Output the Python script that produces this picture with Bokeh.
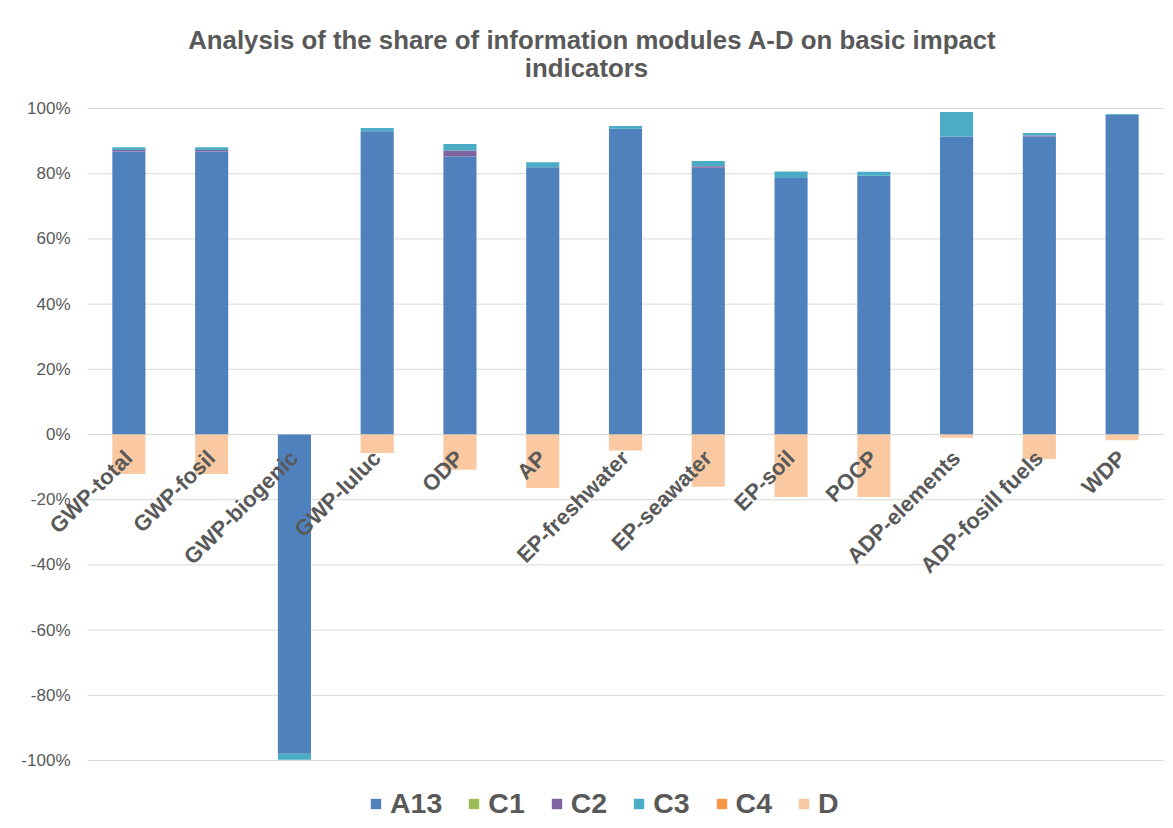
import math
from bokeh.plotting import figure
from bokeh.models import (ColumnDataSource, Range1d, Legend, LegendItem, LabelSet, Label)
from bokeh.core.properties import value
from bokeh.embed import file_html
from bokeh.resources import INLINE

categories = ["GWP-total", "GWP-fosil", "GWP-biogenic", "GWP-luluc", "ODP", "AP",
              "EP-freshwater", "EP-seawater", "EP-soil", "POCP", "ADP-elements",
              "ADP-fosill fuels", "WDP"]
series_names = ["A13", "C1", "C2", "C3", "C4", "D"]
A13 = [0.868, 0.868, -0.979, 0.930, 0.853, 0.820, 0.938, 0.818, 0.787, 0.794, 0.914, 0.914, 0.981]
C1 = [0.0, 0.0, 0.0, 0.0, 0.0, 0.0, 0.0, 0.0, 0.0, 0.0, 0.0, 0.0, 0.0]
C2 = [0.005, 0.005, 0.0, 0.0, 0.018, 0.0, 0.0, 0.005, 0.0, 0.0, 0.0, 0.003, 0.0]
C3 = [0.008, 0.008, -0.019, 0.010, 0.020, 0.015, 0.008, 0.016, 0.020, 0.012, 0.075, 0.008, 0.002]
C4 = [0.0, 0.0, 0.0, 0.0, 0.0, 0.0, 0.0, 0.0, 0.0, 0.0, 0.0, 0.0, 0.0]
D = [-0.121, -0.121, 0.0, -0.057, -0.108, -0.164, -0.049, -0.160, -0.192, -0.192, -0.010, -0.075, -0.018]
colors = ["#4F81BD", "#9BBB59", "#8064A2", "#4BACC6", "#F79646", "#FAC9A1"]
y_ticks = [-1.0, -0.8, -0.6, -0.4, -0.2, 0.0, 0.2, 0.4, 0.6, 0.8, 1.0]
y_tick_labels = ["%d%%" % round(t * 100) for t in y_ticks]
title_line1 = "Analysis  of the share of information modules A-D on basic impact"
title_line2 = "indicators"

GRAY = "#595959"
FONT = "Liberation Sans"
W, H = 1173, 828
n = len(categories)
xs = list(range(n))

# plot frame covers the whole figure so that rotated labels and the legend are not clipped
PX_X = 82.77   # pixels per category
PX_Y = 326.0   # pixels per 100%
x_start = -0.5 - 87 / PX_X
x_end = x_start + W / PX_X
y_end = 1.0 + 108 / PX_Y
y_start = y_end - H / PX_Y

p = figure(width=W, height=H, x_range=Range1d(x_start, x_end), y_range=Range1d(y_start, y_end),
           output_backend="svg", toolbar_location=None,
           min_border_left=0, min_border_right=0, min_border_top=0, min_border_bottom=0)
p.outline_line_color = None
p.xaxis.visible = False
p.yaxis.visible = False
p.xgrid.grid_line_color = None
p.ygrid.grid_line_color = None

# horizontal gridlines over the category area
p.segment(x0=[-0.5] * len(y_ticks), x1=[n - 0.5] * len(y_ticks), y0=y_ticks, y1=y_ticks,
          line_color="#D9D9D9", line_width=1)

# y tick labels
tick_src = ColumnDataSource(dict(x=[-0.5] * len(y_ticks), y=y_ticks, t=y_tick_labels))
p.add_layout(LabelSet(x="x", y="y", text="t", source=tick_src, x_offset=-17,
                      text_align="right", text_baseline="middle",
                      text_font=value(FONT), text_font_size="17px", text_color=GRAY))

all_series = [A13, C1, C2, C3, C4, D]
pos = [0.0] * n
neg = [0.0] * n
items = []
for name, vals, col in zip(series_names, all_series, colors):
    bottoms, tops = [], []
    for i, v in enumerate(vals):
        if v >= 0:
            bottoms.append(pos[i]); tops.append(pos[i] + v); pos[i] += v
        else:
            bottoms.append(neg[i]); tops.append(neg[i] + v); neg[i] += v
    src = ColumnDataSource(dict(x=xs, bottom=bottoms, top=tops))
    r = p.vbar(x="x", bottom="bottom", top="top", width=0.4, source=src,
               fill_color=col, line_color=None)
    items.append(LegendItem(label=name, renderers=[r]))

lab_src = ColumnDataSource(dict(x=xs, y=[0.0] * n, t=categories))
p.add_layout(LabelSet(x="x", y="y", text="t", source=lab_src, angle=math.pi / 4,
                      text_align="right", text_baseline="alphabetic", x_offset=5, y_offset=-25,
                      text_font=value(FONT), text_font_size="22px", text_font_style="bold",
                      text_color=GRAY, level="overlay"))

# title (two centred lines)
p.add_layout(Label(x=595.5, y=H - 39, x_units="screen", y_units="screen", text=title_line1,
                   text_align="center", text_baseline="alphabetic", text_font=FONT,
                   text_font_size="25.8px", text_font_style="bold", text_color=GRAY))
p.add_layout(Label(x=586, y=H - 67, x_units="screen", y_units="screen", text=title_line2,
                   text_align="center", text_baseline="alphabetic", text_font=FONT,
                   text_font_size="25.8px", text_font_style="bold", text_color=GRAY))

legend = Legend(items=items, orientation="horizontal", location=(369, 8),
                glyph_width=13, glyph_height=13, label_standoff=8, spacing=25,
                padding=0, margin=0,
                label_text_font=FONT, label_text_font_size="28.5px",
                label_text_font_style="bold", label_text_color=GRAY,
                border_line_color=None, background_fill_alpha=0)
p.add_layout(legend, "center")

open("out.html", "w").write(file_html(p, INLINE))
